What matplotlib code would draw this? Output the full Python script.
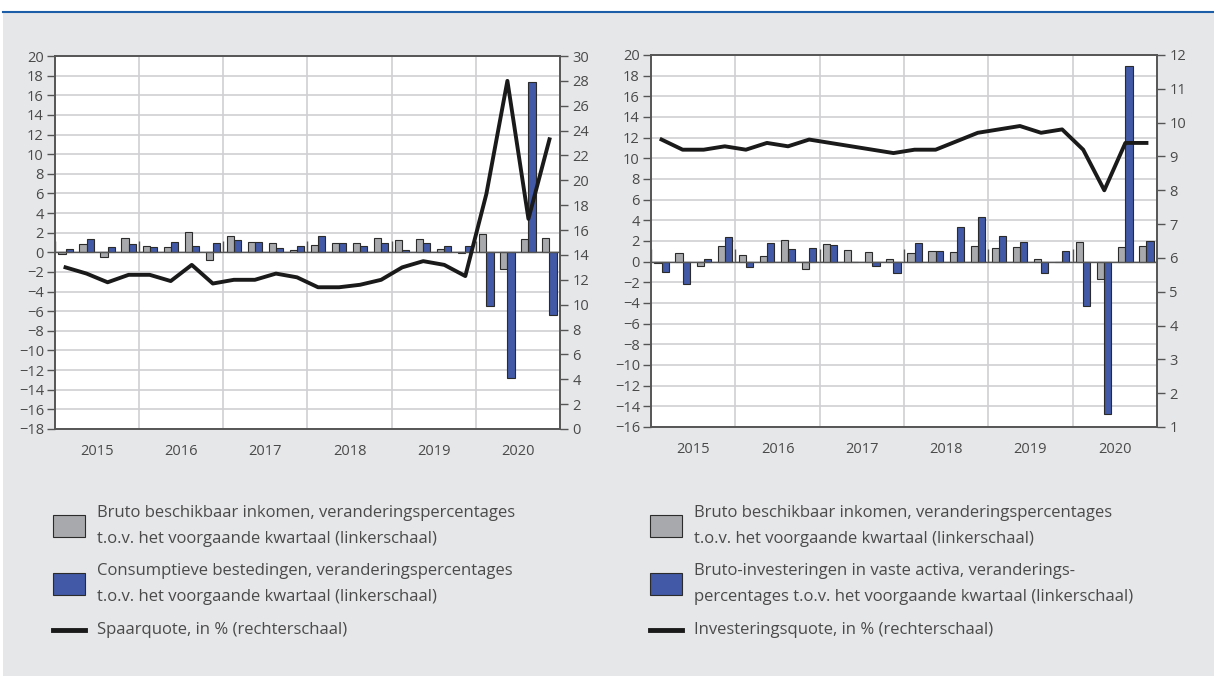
import numpy as np
import matplotlib.pyplot as plt
from matplotlib.patches import Rectangle
from matplotlib.lines import Line2D

plt.rcParams['font.family'] = ['Open Sans', 'DejaVu Sans']

# ==================================================
# DATA (quarterly, 2015Q1 - 2020Q4)
# ==================================================

years = ["2015", "2016", "2017", "2018", "2019", "2020"]

# left panel
inkomen = [-0.2, 0.8, -0.5, 1.5, 0.6, 0.5, 2.1, -0.75,
           1.7, 1.1, 0.9, 0.2, 0.75, 1.0, 0.9, 1.5,
           1.3, 1.4, 0.3, -0.1, 1.9, -1.7, 1.4, 1.5]
consumptie = [0.3, 1.4, 0.5, 0.8, 0.5, 1.1, 0.6, 1.0,
              1.3, 1.1, 0.4, 0.6, 1.7, 1.0, 0.6, 1.0,
              0.2, 0.9, 0.65, 0.65, -5.5, -12.85, 17.4, -6.4]
spaarquote = [13.0, 12.5, 11.8, 12.4, 12.4, 11.9, 13.2, 11.7,
              12.0, 12.0, 12.5, 12.2, 11.4, 11.4, 11.6, 12.0,
              13.0, 13.5, 13.2, 12.3, 18.9, 28.0, 16.9, 23.3]

# right panel
inkomen_r = [-0.1, 0.85, -0.4, 1.5, 0.6, 0.55, 2.1, -0.7,
             1.7, 1.1, 0.9, 0.25, 0.87, 1.03, 0.94, 1.5,
             1.3, 1.4, 0.3, -0.05, 1.95, -1.7, 1.4, 1.5]
investeringen = [-1.0, -2.2, 0.25, 2.4, -0.5, 1.8, 1.2, 1.3,
                 1.65, 0.0, -0.4, -1.1, 1.8, 1.03, 3.4, 4.35,
                 2.5, 1.95, -1.1, 1.03, -4.3, -14.7, 18.9, 2.0]
investeringsquote = [9.5, 9.2, 9.2, 9.3, 9.2, 9.4, 9.3, 9.5,
                     9.4, 9.3, 9.2, 9.1, 9.2, 9.2, 9.45, 9.7,
                     9.8, 9.9, 9.7, 9.8, 9.2, 8.0, 9.4, 9.4]

legend_left = [
    "Bruto beschikbaar inkomen, veranderingspercentages\nt.o.v. het voorgaande kwartaal (linkerschaal)",
    "Consumptieve bestedingen, veranderingspercentages\nt.o.v. het voorgaande kwartaal (linkerschaal)",
    "Spaarquote, in % (rechterschaal)",
]
legend_right = [
    "Bruto beschikbaar inkomen, veranderingspercentages\nt.o.v. het voorgaande kwartaal (linkerschaal)",
    "Bruto-investeringen in vaste activa, veranderings-\npercentages t.o.v. het voorgaande kwartaal (linkerschaal)",
    "Investeringsquote, in % (rechterschaal)",
]

# ==================================================
# STYLE
# ==================================================

BG = "#e6e7e9"
GREY = "#a7a9ac"
BLUE = "#4159a6"
EDGE = "#2b2b2b"
TXT = "#4a4a4a"
SPINE = "#555555"
GRID = "#cfd0d2"

W = 1214
H = 680


def fx(px):
    return px / W


def fy(py):
    return 1 - py / H


fig = plt.figure(figsize=(12.14, 6.8), dpi=100, facecolor="white")

# grey panel and blue rule on top
fig.patches.append(Rectangle((fx(3), fy(676)), fx(1211), (676 - 13) / H,
                             transform=fig.transFigure, facecolor=BG,
                             edgecolor="none", zorder=-10))
fig.add_artist(Line2D([fx(3), 1], [fy(12), fy(12)], transform=fig.transFigure,
                      color="#1d5ea8", lw=1.5))


def panel(rect, grey, blue, line, ylim, rlim, rstep):
    ax = fig.add_axes(rect)
    ax.set_facecolor("white")
    n = len(grey)
    x = np.arange(n)
    w = 0.34

    ax.bar(x - w / 2, grey, w, color=GREY, edgecolor=EDGE, linewidth=0.8, zorder=3)
    ax.bar(x + w / 2, blue, w, color=BLUE, edgecolor=EDGE, linewidth=0.8, zorder=3)

    ax.set_xlim(-0.5, n - 0.5)
    ax.set_ylim(*ylim)
    ticks = list(range(ylim[0], ylim[1] + 1, 2))
    ax.set_yticks(ticks)
    ax.set_yticklabels([str(v).replace("-", "\u2212") for v in ticks])
    ax.grid(axis="y", color=GRID, lw=1.2, zorder=0)

    # year separators and labels
    for b in np.arange(3.5, n - 1, 4):
        ax.axvline(b, color=GRID, lw=1.2, zorder=1)
        ax.vlines(b, 0, 1.2, color=SPINE, lw=1, zorder=4)
    ax.vlines(-0.5, 0, 1.2, color=SPINE, lw=1, zorder=4)
    ax.axhline(0, color=SPINE, lw=1, zorder=4)

    ax.set_xticks(np.arange(1.5, n, 4))
    ax.set_xticklabels(years)
    ax.tick_params(axis="x", length=0, pad=11, labelsize=10.5, labelcolor=TXT)
    ax.tick_params(axis="y", length=6, width=1, color=SPINE, pad=2,
                   labelsize=10.5, labelcolor=TXT)

    for s in ax.spines.values():
        s.set_color(SPINE)
        s.set_linewidth(1.2)

    ax2 = ax.twinx()
    ax2.plot(x, line, color="#1a1a1a", lw=2.8, zorder=5)
    ax2.set_ylim(*rlim)
    ax2.set_yticks(np.arange(rlim[0], rlim[1] + 1, rstep))
    ax2.tick_params(axis="y", length=6, width=1, color=SPINE, pad=3,
                    labelsize=10.5, labelcolor=TXT)
    for s in ax2.spines.values():
        s.set_color(SPINE)
        s.set_linewidth(1.2)
    return ax


panel([fx(55), fy(429), fx(505), (429 - 56) / H],
      inkomen, consumptie, spaarquote, (-18, 20), (0, 30), 2)
panel([fx(651), fy(427), fx(506), (427 - 55) / H],
      inkomen_r, investeringen, investeringsquote, (-16, 20), (1, 12), 1)


def legend(x0, items):
    ys = [526, 584, 630]
    for k, (y, label) in enumerate(zip(ys, items)):
        if k < 2:
            col = GREY if k == 0 else BLUE
            fig.patches.append(Rectangle((fx(x0), fy(y + 11)), fx(32), 22 / H,
                                         transform=fig.transFigure, facecolor=col,
                                         edgecolor=EDGE, linewidth=0.8))
        else:
            fig.add_artist(Line2D([fx(x0), fx(x0 + 32)], [fy(y), fy(y)],
                                  transform=fig.transFigure, color="#1a1a1a", lw=3.5))
        fig.text(fx(x0 + 44), fy(y), label, ha="left", va="center",
                 fontsize=12, color=TXT, linespacing=1.85)


legend(53, legend_left)
legend(650, legend_right)

plt.savefig("out.png", dpi=100, facecolor="white")
